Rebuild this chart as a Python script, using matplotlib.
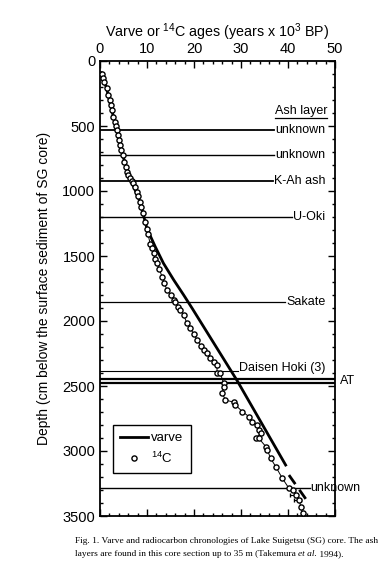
import matplotlib
matplotlib.use("Agg")
import matplotlib.pyplot as plt
from matplotlib.ticker import MultipleLocator
import numpy as np

plt.rcParams['font.family'] = ['Liberation Sans', 'DejaVu Sans']
plt.rcParams['mathtext.fontset'] = 'custom'
plt.rcParams['mathtext.rm'] = 'Liberation Sans'
plt.rcParams['mathtext.it'] = 'Liberation Sans:italic'

# 14C ages (kyr BP) and depths (cm)
c14_age = [0.36, 0.7, 0.9, 1.4, 1.8, 2.1, 2.35, 2.5, 2.85, 3.2, 3.4, 3.55, 3.8, 4.05, 4.3, 4.5,
           4.8, 5.2, 5.5, 5.8, 6.05, 6.4, 6.8, 7.1, 7.4, 7.8, 8.1, 8.5, 8.8, 9.25, 9.6, 10.0,
           10.2, 10.7, 11.0, 11.4, 11.7, 12.1, 12.6, 13.2, 13.7, 14.25, 15.0, 15.7, 16.0, 16.7,
           17.1, 17.8, 18.5, 19.2, 19.9, 20.7, 21.4, 22.1, 22.8, 23.5, 24.2, 24.9, 24.9, 25.6,
           26.3, 26.3, 26.0, 26.7, 28.5, 28.8, 30.3, 31.7, 32.4, 33.5, 33.8, 34.2, 33.1, 33.8,
           35.3, 35.6, 36.3, 37.4, 38.8, 40.2, 41.0, 41.7, 42.4, 42.7, 43.1]
c14_depth = [102, 128, 159, 210, 262, 300, 338, 377, 428, 467, 497, 531, 569, 608, 646, 685,
             723, 775, 813, 851, 875, 900, 923, 941, 970, 1005, 1040, 1082, 1120, 1172, 1240, 1290,
             1330, 1410, 1440, 1479, 1520, 1556, 1600, 1659, 1710, 1762, 1800, 1838, 1855, 1890,
             1915, 1954, 2018, 2050, 2100, 2146, 2190, 2223, 2249, 2287, 2313, 2338, 2403, 2403,
             2479, 2505, 2556, 2608, 2625, 2646, 2697, 2736, 2774, 2800, 2838, 2864, 2903, 2903,
             2967, 2992, 3056, 3121, 3210, 3287, 3300, 3338, 3377, 3428, 3479]
err_age = [41.7, 42.4]
err_depth = [3338, 3377]
err_x = [1.3, 1.2]

# varve chronology (solid + dashed extrapolation)
varve_age = [0.3, 1.4, 2.5, 3.55, 4.8, 6.4, 8.5, 10.0, 11.75, 13.5, 15.7, 17.8, 19.6, 29.2, 39.5]
varve_depth = [90, 210, 377, 531, 723, 900, 1082, 1290, 1428, 1556, 1685, 1800, 1902, 2460, 3108]
varve_dash_age = [40.2, 44.2]
varve_dash_depth = [3185, 3390]

# ash layers
ash_names = ["unknown", "unknown", "K-Ah ash", "U-Oki", "Sakate", "Daisen Hoki (3)"]
ash_depth = [531, 723, 921, 1197, 1851, 2382]
ash_lw = [1.3, 1.0, 1.3, 1.0, 0.9, 0.8]
at_depth = [2449, 2480]
bottom_unknown_depth = 3287

fig = plt.figure(figsize=(3.84, 5.76), dpi=100)
ax = fig.add_axes([100/384, 1-516/576, 235/384, 455/576])
ax.set_xlim(0, 50)
ax.set_ylim(3500, 0)

# varve
ax.plot(varve_age, varve_depth, color='black', lw=2.0, label='varve', zorder=3)
ax.plot(varve_dash_age, varve_dash_depth, color='black', lw=2.0, ls=(0, (4, 2.5)), zorder=3)

# 14C
ax.plot(c14_age, c14_depth, color='black', lw=0.7, zorder=4)
ax.errorbar(err_age, err_depth, xerr=[err_x, [0.3, 0.3]], fmt='none', ecolor='black',
            elinewidth=0.8, capsize=1.5, zorder=4)
ax.plot(c14_age, c14_depth, ls='none', marker='o', ms=3.7, mfc='white', mec='black',
        mew=1.0, label='$^{14}$C', zorder=5)

fig.canvas.draw()
renderer = fig.canvas.get_renderer()
inv = ax.transData.inverted()

def text_left_x(t):
    bb = t.get_window_extent(renderer)
    return inv.transform((bb.x0 - 1, bb.y0))[0]

for name, d, lw in zip(ash_names, ash_depth, ash_lw):
    dy = -2 if name.startswith("Daisen") else 0
    t = ax.annotate(name, xy=(48.0, d), xytext=(0, -dy), textcoords='offset points',
                    ha='right', va='center', fontsize=9, zorder=6)
    fig.canvas.draw()
    xl = text_left_x(t)
    ax.plot([0, xl], [d, d], color='black', lw=lw, zorder=2)

for d in at_depth:
    ax.plot([0, 50], [d, d], color='black', lw=1.6, zorder=2)
ax.text(51.0, 2462, "AT", ha='left', va='center', fontsize=9, clip_on=False)

tb = ax.text(44.8, bottom_unknown_depth, "unknown", ha='left', va='center', fontsize=9,
             clip_on=False, zorder=6)
ax.plot([0, 44.6], [bottom_unknown_depth, bottom_unknown_depth], color='black', lw=1.0, zorder=2)

ta = ax.text(48.3, 385, "Ash layer", ha='right', va='center', fontsize=9, zorder=6)
fig.canvas.draw()
bb = ta.get_window_extent(renderer)
(ux0, uy), (ux1, _) = inv.transform([(bb.x0, bb.y0 - 0.5), (bb.x1, bb.y0 - 0.5)])
ax.plot([ux0, ux1], [uy, uy], color='black', lw=0.9, zorder=6)

# axes styling
ax.xaxis.set_major_locator(MultipleLocator(10))
ax.xaxis.set_minor_locator(MultipleLocator(2))
ax.yaxis.set_major_locator(MultipleLocator(500))
ax.yaxis.set_minor_locator(MultipleLocator(100))
ax.tick_params(which='both', direction='in', top=True, right=True, bottom=True, left=True,
               labeltop=True, labelbottom=False, labelsize=10.5, width=1.0)
ax.tick_params(which='major', length=5)
ax.tick_params(which='minor', length=2.5)
for s in ax.spines.values():
    s.set_linewidth(1.3)
ax.xaxis.set_label_position('top')
ax.set_xlabel("Varve or $^{14}$C ages (years x 10$^{3}$ BP)", fontsize=10.3, labelpad=4)
ax.set_ylabel("Depth (cm below the surface sediment of SG core)", fontsize=10, labelpad=8)

leg = ax.legend(loc='lower left', bbox_to_anchor=(0.055, 0.095), borderaxespad=0,
                fontsize=9.5, frameon=True, fancybox=False, edgecolor='black', framealpha=1,
                handlelength=2.1, handletextpad=0.25, borderpad=0.55, labelspacing=0.45)
leg.get_frame().set_linewidth(1.0)

# caption
cap_kw = dict(fontsize=6.75, family='Liberation Serif', ha='left', va='baseline')
fig.text(75/384, 1-543/576,
         "Fig. 1. Varve and radiocarbon chronologies of Lake Suigetsu (SG) core. The ash", **cap_kw)
t1 = fig.text(75/384, 1-556/576,
              "layers are found in this core section up to 35 m (Takemura ", **cap_kw)
fig.canvas.draw()
b1 = t1.get_window_extent(renderer)
t2 = fig.text(b1.x1/fig.bbox.width, 1-556/576, "et al.", style='italic', **cap_kw)
fig.canvas.draw()
b2 = t2.get_window_extent(renderer)
fig.text(b2.x1/fig.bbox.width, 1-556/576, " 1994).", **cap_kw)

fig.savefig("out.png", dpi=100)
